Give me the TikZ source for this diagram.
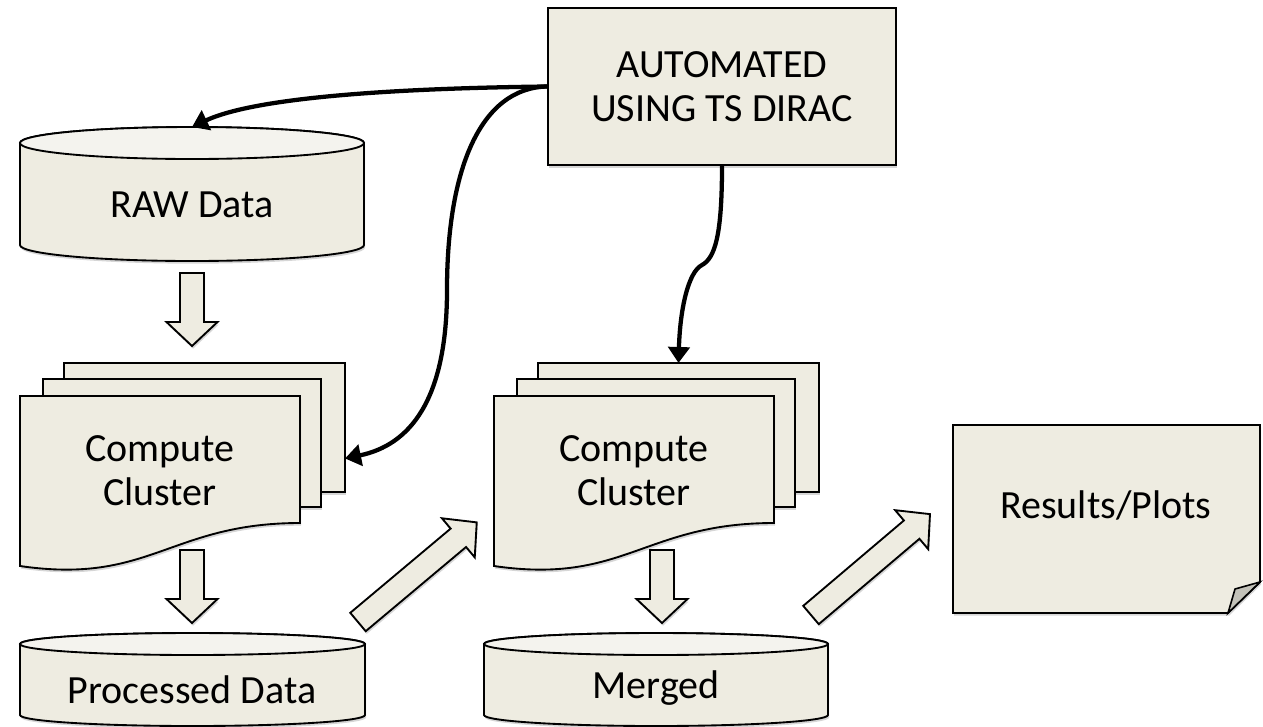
\documentclass[tikz,border=0pt]{standalone}
\usepackage{fontspec}
\setmainfont{Carlito}
\usetikzlibrary{arrows.meta,shadows}

\definecolor{paper}{HTML}{EEECE1}
\definecolor{papertop}{HTML}{F4F3EE}
\definecolor{foldgray}{HTML}{C3C2B9}

\tikzset{
  outline/.style={draw=black, line width=1.4pt, fill=paper, line join=miter},
  shade/.style={drop shadow={shadow xshift=0.8pt, shadow yshift=-2pt, opacity=0.16, fill=black}},
  txt/.style={font=\fontsize{30pt}{33pt}\selectfont, align=center, inner sep=0pt},
  sheet/.style={outline, shade, inner sep=0pt, outer sep=0pt},
  conn/.style={draw=black, line width=3.2pt, -{Triangle[length=12pt,width=16pt]}},
  blk/.style={outline, shade, line join=miter}
}

% vertical drum: left x, right x, top-ellipse centre y, bottom-ellipse centre y, y radius
\newcommand\drum[5]{%
  \pgfmathsetmacro\drumrx{(#2-#1)/2}%
  \pgfmathsetmacro\drumcx{(#2+#1)/2}%
  \draw[outline, shade] (#1,#3) -- (#1,#4)
    arc[start angle=180, end angle=0, x radius=\drumrx, y radius=#5]
    -- (#2,#3)
    arc[start angle=0, end angle=-180, x radius=\drumrx, y radius=#5] -- cycle;
  \draw[outline, fill=papertop] (\drumcx,#3) ellipse[x radius=\drumrx, y radius=#5];
}

% hollow block arrow: tail centre, direction angle, length
\newcommand\blockarrow[3]{%
  \begin{scope}[shift={#1}, rotate=#2]
    \draw[blk] (0,-12) -- (#3-24,-12) -- (#3-24,-25.5) -- (#3,0)
      -- (#3-24,25.5) -- (#3-24,12) -- (0,12) -- cycle;
  \end{scope}
}

% stack of three sheets with a wavy front page
\newcommand\sheetstack[3]{% #1 x offset, #2 name prefix, #3 text
  \node[sheet, minimum width=210.75pt, minimum height=96.75pt] (#23) at (204.5+#1,427.5) {};
  \node[sheet, minimum width=208.5pt, minimum height=96pt] (#22) at (182+#1,443) {};
  \draw[outline, shade] (20+#1,396) -- (300+#1,396) -- (300+#1,523)
    .. controls (170+#1,523) and (150+#1,585) .. (20+#1,566) -- cycle;
  \node[txt] (#21) at (160+#1,471) {#3};
}

\begin{document}
\begin{tikzpicture}[x=0.75pt, y=-0.75pt]
  \useasboundingbox (0,0) rectangle (1263,726);

  % controller box
  \node[outline, shade, txt, minimum width=261pt, minimum height=117.75pt]
    (auto) at (722,86.5) {AUTOMATED\\USING TS DIRAC};

  % data stores
  \drum{20}{364}{143}{245}{16}
  \node[txt] (raw) at (192,205) {RAW Data};
  \coordinate (rawtop) at (192,127);

  \drum{20}{365}{644}{715}{11}
  \node[txt] (proc) at (192,690) {Processed Data};

  \drum{484}{828}{644}{715}{11}
  \node[txt] (merged) at (656,688) {Merged};

  % compute clusters
  \sheetstack{0}{lc}{Compute\\Cluster}
  \sheetstack{474}{mc}{Compute\\Cluster}

  % results page with folded corner
  \draw[outline, shade] (953,425) -- (1260,425) -- (1260,582) -- (1228,613) -- (953,613) -- cycle;
  \draw[outline, fill=foldgray, line width=1.2pt] (1228,613) -- (1235,589) -- (1260,582) -- cycle;
  \node[txt] (results) at (1106,505) {Results/Plots};

  % block arrows between stages
  \blockarrow{(192,273)}{-90}{73}
  \blockarrow{(192,550)}{-90}{73}
  \blockarrow{(662,550)}{-90}{73}
  \blockarrow{(358,622)}{40}{155}
  \blockarrow{(811,615)}{40.3}{156}

  % control connectors
  \path (lc3.north east) -- (lc3.south east) coordinate[pos=0.74] (lc3in);
  \draw[conn] (auto.west) .. controls (420,88) and (260,95) .. (rawtop);
  \draw[conn] (auto.west) .. controls (480,88) and (447,170) .. (447,290)
    .. controls (447,400) and (410,445) .. (lc3in);
  \draw[conn] (auto.south) .. controls (722,235) and (715,258) .. (702,265)
    .. controls (688,272) and (680,310) .. (mc3.north);
\end{tikzpicture}
\end{document}
